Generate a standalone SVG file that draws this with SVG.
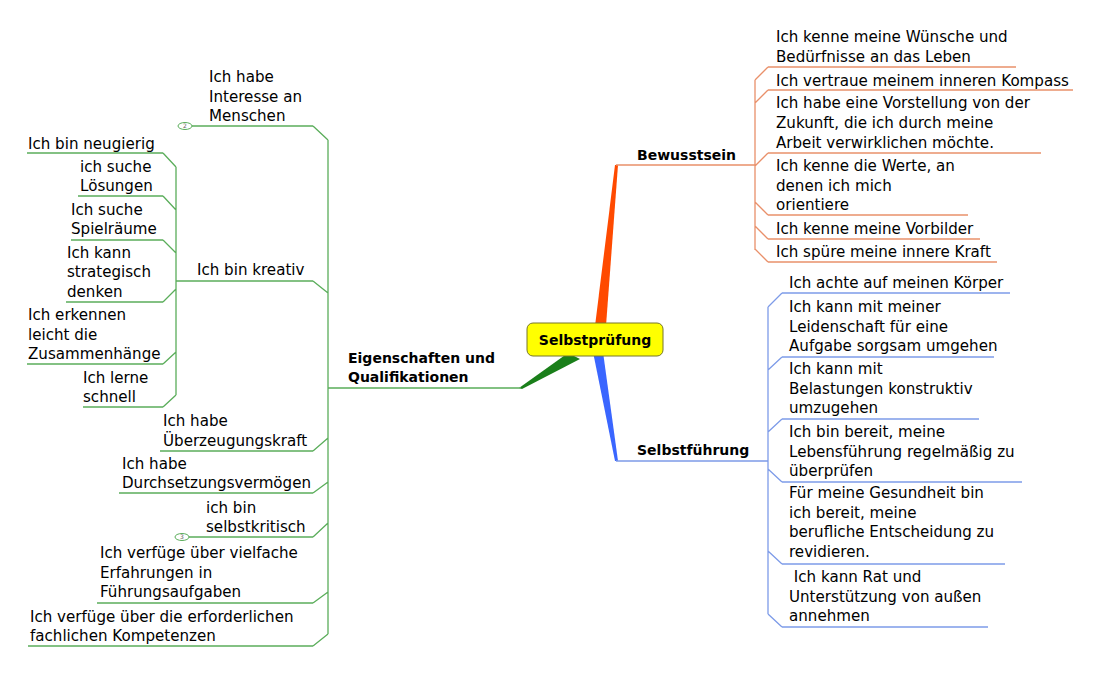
<svg xmlns="http://www.w3.org/2000/svg" width="1100" height="674" viewBox="0 0 1100 674">
<style>
.t{font-family:"DejaVu Sans",Verdana,sans-serif;font-size:15.1px;fill:#000}
.b{font-family:"DejaVu Sans",Verdana,sans-serif;font-size:14px;font-weight:bold;fill:#000}
.g{stroke:#5aad5a;stroke-width:1.3;fill:none}
.o{stroke:#e9906a;stroke-width:1.3;fill:none}
.u{stroke:#7d9be8;stroke-width:1.3;fill:none}
.badge{fill:#fff;stroke:#5aad5a;stroke-width:1}
.bt{font-family:"DejaVu Sans",sans-serif;font-size:6px;fill:#666}
</style>
<rect width="1100" height="674" fill="#fff"/>
<g id="connectors">
  <polygon points="595,326 606,326 618,165 615,165" fill="#ff4a00"/>
  <polygon points="593,352 603,352 618,461 615,461" fill="#3a66ff"/>
  <polygon points="568,353 580,359 522,389 519,388" fill="#1a7f1a"/>
  <path class="o" d="M616,165H755M755,80V250M755,80L768,67M755,103L768,90M755,166L768,153M755,202L768,215M755,226L768,239M755,249L768,262"/>
  <path class="u" d="M616,461H768M768,307V614M768,307L782,293M768,370L782,357M768,432L782,419M768,469L782,482M768,551L782,564M768,614L782,627"/>
  <path class="g" d="M328,388H521M328,140V634M328,140L313,126M328,293L313,281M328,438L313,451M328,482L313,493M328,523L313,537M328,592L313,603M328,634L313,646"/>
  <path class="g" d="M176,167V395M176,167L163,153M176,210L163,196M176,253L163,240M176,289L163,302M176,352L163,364M176,395L163,407"/>
</g>
<g id="center">
  <rect x="527" y="323" width="136" height="33" rx="6" fill="#ffff00" stroke="#77772a" stroke-width="1"/>
  <text class="b" x="595" y="345" text-anchor="middle">Selbstprüfung</text>
</g>
<g id="bewusstsein"><text class="b" x="637" y="160">Bewusstsein</text></g>
<g id="b1"><line class="o" x1="768" y1="67" x2="1016" y2="67"/><text class="t" x="776" y="42">Ich kenne meine Wünsche und</text><text class="t" x="776" y="62">Bedürfnisse an das Leben</text></g>
<g id="b2"><line class="o" x1="768" y1="90" x2="1073" y2="90"/><text class="t" x="776" y="85.5">Ich vertraue meinem inneren Kompass</text></g>
<g id="b3"><line class="o" x1="768" y1="153" x2="1041" y2="153"/><text class="t" x="776" y="108">Ich habe eine Vorstellung von der</text><text class="t" x="776" y="128">Zukunft, die ich durch meine</text><text class="t" x="776" y="147.5">Arbeit verwirklichen möchte.</text></g>
<g id="b4"><line class="o" x1="768" y1="215" x2="968" y2="215"/><text class="t" x="776" y="171">Ich kenne die Werte, an</text><text class="t" x="776" y="190.5">denen ich mich</text><text class="t" x="776" y="210">orientiere</text></g>
<g id="b5"><line class="o" x1="768" y1="239" x2="980" y2="239"/><text class="t" x="776" y="233.5">Ich kenne meine Vorbilder</text></g>
<g id="b6"><line class="o" x1="768" y1="262" x2="997" y2="262"/><text class="t" x="776" y="257">Ich spüre meine innere Kraft</text></g>

<g id="selbstfuehrung"><text class="b" x="637" y="455">Selbstführung</text></g>
<g id="s1"><line class="u" x1="782" y1="293" x2="1010" y2="293"/><text class="t" x="789" y="288">Ich achte auf meinen Körper</text></g>
<g id="s2"><line class="u" x1="782" y1="357" x2="994" y2="357"/><text class="t" x="789" y="312">Ich kann mit meiner</text><text class="t" x="789" y="332">Leidenschaft für eine</text><text class="t" x="789" y="351">Aufgabe sorgsam umgehen</text></g>
<g id="s3"><line class="u" x1="782" y1="419" x2="979" y2="419"/><text class="t" x="789" y="374">Ich kann mit</text><text class="t" x="789" y="394">Belastungen konstruktiv</text><text class="t" x="789" y="413">umzugehen</text></g>
<g id="s4"><line class="u" x1="782" y1="482" x2="1022" y2="482"/><text class="t" x="789" y="437">Ich bin bereit, meine</text><text class="t" x="789" y="457">Lebensführung regelmäßig zu</text><text class="t" x="789" y="476">überprüfen</text></g>
<g id="s5"><line class="u" x1="782" y1="564" x2="1005" y2="564"/><text class="t" x="789" y="498">Für meine Gesundheit bin</text><text class="t" x="789" y="518">ich bereit, meine</text><text class="t" x="789" y="537">berufliche Entscheidung zu</text><text class="t" x="789" y="557">revidieren.</text></g>
<g id="s6"><line class="u" x1="782" y1="627" x2="988" y2="627"/><text class="t" x="789" y="582" xml:space="preserve"> Ich kann Rat und</text><text class="t" x="789" y="601.5">Unterstützung von außen</text><text class="t" x="789" y="621">annehmen</text></g>

<g id="eigenschaften"><text class="b" x="348" y="363">Eigenschaften und</text><text class="b" x="348" y="382">Qualifikationen</text></g>
<g id="e1"><line class="g" x1="192" y1="126" x2="313" y2="126"/><ellipse class="badge" cx="185" cy="126" rx="7" ry="3.5"/><text class="bt" x="185" y="128" text-anchor="middle">2</text><text class="t" x="209" y="82">Ich habe</text><text class="t" x="209" y="101.5">Interesse an</text><text class="t" x="209" y="121">Menschen</text></g>
<g id="e2"><line class="g" x1="176" y1="281" x2="313" y2="281"/><text class="t" x="197" y="275">Ich bin kreativ</text></g>
<g id="k1"><line class="g" x1="27" y1="153" x2="163" y2="153"/><text class="t" x="28" y="148.5">Ich bin neugierig</text></g>
<g id="k2"><line class="g" x1="78" y1="196" x2="163" y2="196"/><text class="t" x="80" y="172">ich suche</text><text class="t" x="80" y="191">Lösungen</text></g>
<g id="k3"><line class="g" x1="71" y1="240" x2="163" y2="240"/><text class="t" x="71" y="214.5">Ich suche</text><text class="t" x="71" y="234">Spielräume</text></g>
<g id="k4"><line class="g" x1="66" y1="302" x2="163" y2="302"/><text class="t" x="67" y="257.5">Ich kann</text><text class="t" x="67" y="277">strategisch</text><text class="t" x="67" y="296.5">denken</text></g>
<g id="k5"><line class="g" x1="27" y1="364" x2="163" y2="364"/><text class="t" x="28" y="320">Ich erkennen</text><text class="t" x="28" y="339.5">leicht die</text><text class="t" x="28" y="359">Zusammenhänge</text></g>
<g id="k6"><line class="g" x1="83" y1="407" x2="163" y2="407"/><text class="t" x="83" y="383">Ich lerne</text><text class="t" x="83" y="402">schnell</text></g>
<g id="e3"><line class="g" x1="160" y1="451" x2="313" y2="451"/><text class="t" x="163" y="426">Ich habe</text><text class="t" x="163" y="445.5">Überzeugungskraft</text></g>
<g id="e4"><line class="g" x1="119" y1="493" x2="313" y2="493"/><text class="t" x="122" y="469">Ich habe</text><text class="t" x="122" y="488">Durchsetzungsvermögen</text></g>
<g id="e5"><line class="g" x1="189" y1="537" x2="313" y2="537"/><ellipse class="badge" cx="182" cy="537" rx="7" ry="3.5"/><text class="bt" x="182" y="539" text-anchor="middle">3</text><text class="t" x="206" y="513">ich bin</text><text class="t" x="206" y="532">selbstkritisch</text></g>
<g id="e6"><line class="g" x1="97" y1="603" x2="313" y2="603"/><text class="t" x="100" y="558">Ich verfüge über vielfache</text><text class="t" x="100" y="577.5">Erfahrungen in</text><text class="t" x="100" y="597">Führungsaufgaben</text></g>
<g id="e7"><line class="g" x1="28" y1="646" x2="313" y2="646"/><text class="t" x="30" y="621.5">Ich verfüge über die erforderlichen</text><text class="t" x="30" y="641">fachlichen Kompetenzen</text></g>
</svg>
